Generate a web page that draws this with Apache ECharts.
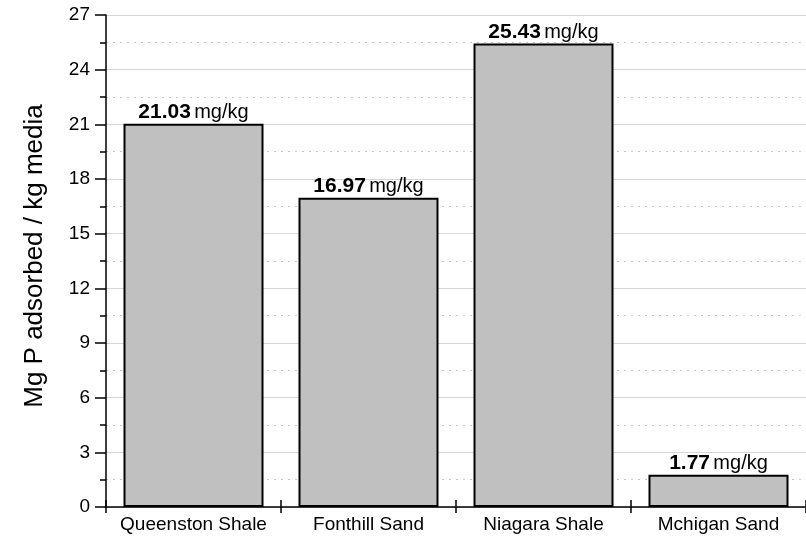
<!DOCTYPE html>
<html>
<head>
<meta charset="utf-8">
<script src="https://cdn.jsdelivr.net/npm/echarts@6/dist/echarts.min.js"></script>
<style>
html,body{margin:0;padding:0;background:#fff;}
#main{width:806px;height:539px;}
</style>
</head>
<body>
<div id="main"></div>
<script>
const categories = ['Queenston Shale', 'Fonthill Sand', 'Niagara Shale', 'Mchigan Sand'];
const values = [21.03, 16.97, 25.43, 1.77];
const unitLabel = 'mg/kg';
const yAxisTitle = 'Mg P adsorbed / kg media';

const FONT = '"Liberation Sans", Arial, sans-serif';
const chart = echarts.init(document.getElementById('main'), null, {renderer: 'canvas'});
chart.setOption({
  animation: false,
  backgroundColor: '#fff',
  grid: {left: 106, top: 15, bottom: 32, width: 708, containLabel: false},
  xAxis: [{
    type: 'category',
    data: categories,
    position: 'bottom',
    boundaryGap: true,
    axisLine: {lineStyle: {color: '#000', width: 1.5}},
    axisTick: {show: true, length: 6, lineStyle: {color: '#000', width: 1.5}},
    axisLabel: {color: '#000', fontFamily: FONT, fontSize: 19, margin: 8, interval: 0},
    splitLine: {show: false}
  }, {
    type: 'category',
    data: categories,
    position: 'bottom',
    offset: 0,
    boundaryGap: true,
    axisLine: {show: false},
    axisTick: {show: true, inside: true, length: 7, lineStyle: {color: '#000', width: 1.5}},
    axisLabel: {show: false},
    splitLine: {show: false}
  }],
  yAxis: {
    type: 'value',
    min: 0, max: 27, interval: 3,
    name: yAxisTitle,
    nameLocation: 'middle',
    nameGap: 58,
    nameTextStyle: {color: '#000', fontFamily: FONT, fontSize: 26, padding: [0, 0, 0, 10]},
    axisLine: {show: true, lineStyle: {color: '#000', width: 1.5}},
    axisTick: {show: true, length: 11, lineStyle: {color: '#000', width: 1.5}},
    minorTick: {show: true, splitNumber: 2, length: 6, lineStyle: {color: '#000', width: 1.5}},
    axisLabel: {color: '#000', fontFamily: FONT, fontSize: 19, margin: 16},
    splitLine: {show: true, lineStyle: {color: '#d6d6d6', width: 1}},
    minorSplitLine: {show: true, lineStyle: {color: '#c8c8c8', width: 1, type: [2, 5]}}
  },
  series: [{
    type: 'bar',
    data: values,
    barWidth: '80%',
    itemStyle: {color: '#c0c0c0', borderColor: '#000', borderWidth: 2},
    label: {
      show: true,
      position: 'top',
      distance: 1,
      formatter: p => '{b|' + p.value.toFixed(2) + '} {n|' + unitLabel + '}',
      rich: {
        b: {fontFamily: FONT, fontWeight: 'bold', fontSize: 21, color: '#000'},
        n: {fontFamily: FONT, fontSize: 20, color: '#000'}
      }
    }
  }]
});
</script>
</body>
</html>
